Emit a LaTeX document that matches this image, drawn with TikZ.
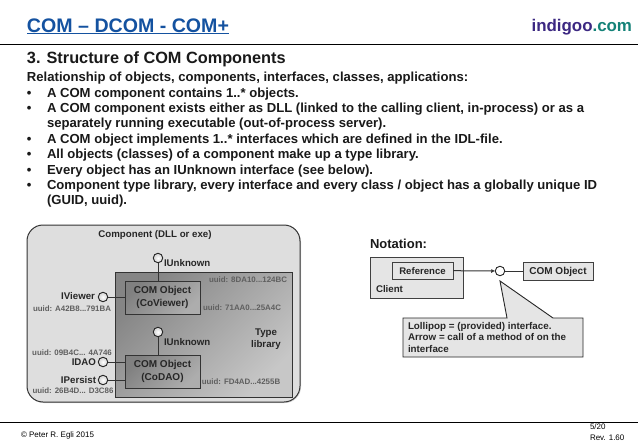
\documentclass[tikz,border=0pt]{standalone}
\usepackage{fontspec}
\setmainfont{Liberation Sans}
\usetikzlibrary{arrows.meta,shadows}
\definecolor{hdblue}{RGB}{20,82,160}
\definecolor{indig}{RGB}{60,40,130}
\definecolor{teal1}{RGB}{20,130,120}
\definecolor{uuidc}{RGB}{95,95,95}
\tikzset{
  every node/.style={inner sep=0pt,outer sep=0pt},
  body/.style={font=\bfseries\fontsize{13.1}{15}\selectfont,anchor=base west,text=black!90},
  lab/.style={font=\bfseries\fontsize{9.7}{12}\selectfont,text=black!85},
  uu/.style={font=\bfseries\fontsize{7.9}{9}\selectfont,text=uuidc},
  lolli/.style={circle,draw=black!85,line width=.9pt,minimum size=9.5pt,inner color=white,outer color=black!18},
  lolliw/.style={circle,draw=black!85,line width=.9pt,minimum size=9.5pt,fill=white},
  conn/.style={draw=black!80,line width=1pt},
  obj/.style={draw=black!80,line width=1pt,top color=black!50,bottom color=black!32,shading angle=45,minimum width=75pt,minimum height=33pt,align=center,font=\bfseries\fontsize{10}{12.5}\selectfont,text=black!85},
  nbox/.style={draw=black!75,line width=1pt,fill=black!10},
}
\begin{document}
\begin{tikzpicture}[x=1pt,y=-1pt]
\useasboundingbox (0,0) rectangle (638,442);
\fill[white] (0,0) rectangle (638,442);
% header
\node[anchor=base west,font=\bfseries\fontsize{19.6}{22}\selectfont,text=hdblue] (title) at (27,32) {COM – DCOM - COM+};
\draw[hdblue,line width=.9pt] (27,33.5) -- (229,33.5);
\node[anchor=base east,font=\bfseries\fontsize{16.9}{19}\selectfont] (logo) at (632,31) {\textcolor{indig}{indigoo}\textcolor{teal1}{.com}};
\draw[black,line width=.9pt] (0,44) -- (638,44);
\node[anchor=base west,font=\bfseries\fontsize{16.3}{18}\selectfont,text=black!90] (head) at (27,63) {3. Structure of COM Components};
\node[body] (t0) at (27,81.5) {Relationship of objects, components, interfaces, classes, applications:};
\node[body] (b1) at (47,97) {A COM component contains 1..* objects.};
\node[body] (b2) at (47,112.3) {A COM component exists either as DLL (linked to the calling client, in-process) or as a};
\node[body] (b3) at (47,127.7) {separately running executable (out-of-process server).};
\node[body] (b4) at (47,143) {A COM object implements 1..* interfaces which are defined in the IDL-file.};
\node[body] (b5) at (47,158.5) {All objects (classes) of a component make up a type library.};
\node[body] (b6) at (47,174) {Every object has an IUnknown interface (see below).};
\node[body] (b7) at (47,189) {Component type library, every interface and every class / object has a globally unique ID};
\node[body] (b8) at (47,204.5) {(GUID, uuid).};
\foreach \y/\a in {97/1,112.3/2,143/4,158.5/5,174/6,189/7}{
  \node[body] (d\a) at (27,\y) {•};
}
% component
\draw[black!80,line width=1pt,fill=black!13,rounded corners=16pt,drop shadow={shadow xshift=1pt,shadow yshift=-1pt,fill=black!30}] (27,225) rectangle (300,402);
\node[lab] (comp) at (155,235) {Component (DLL or exe)};
\path[draw=black!80,line width=.8pt,top color=black!48,bottom color=black!22,shading angle=45] (115,272) rectangle (292,397);
\node[uu] (v1) at (248,280) {uuid: 8DA10...124BC};
\node[uu] (v2) at (242,308) {uuid: 71AA0...25A4C};
\node[uu] (v3) at (241,382) {uuid: FD4AD...4255B};
\node[uu] (v4) at (72,309) {uuid: A42B8...791BA};
\node[uu] (v5) at (72,353) {uuid: 09B4C... 4A746};
\node[uu] (v6) at (73,391) {uuid: 26B4D... D3C86};
\node[obj] (o1) at (162.5,297.5) {COM Object\\(CoViewer)};
\node[obj] (o2) at (162.5,371.5) {COM Object\\(CoDAO)};
\node[lolli] (l1) at (158,258) {};
\node[lolli] (l2) at (103,297) {};
\node[lolli] (l3) at (158,332) {};
\node[lolli] (l4) at (103,362) {};
\node[lolli] (l5) at (103,380) {};
\draw[conn] (l1) -- (l1|-o1.north);
\draw[conn] (l3) -- (l3|-o2.north);
\draw[conn] (l2) -- (l2-|o1.west);
\draw[conn] (l4) -- (l4-|o2.west);
\draw[conn] (l5) -- (l5-|o2.west);
\node[lab,anchor=west] (u1) at (164,263) {IUnknown};
\node[lab,anchor=west] (u2) at (164,342) {IUnknown};
\node[lab,anchor=east] (iv) at (95,296) {IViewer};
\node[lab,anchor=east] (id) at (96,362) {IDAO};
\node[lab,anchor=east] (ip) at (96,380) {IPersist};
\node[lab,align=center] (tl) at (266,339) {Type\\library};
% notation
\node[anchor=base west,font=\bfseries\fontsize{13}{15}\selectfont,text=black!90] (not) at (370,248) {Notation:};
\path[nbox,drop shadow={shadow xshift=.7pt,shadow yshift=-.7pt,fill=black!30}] (370,257) rectangle (463,298);
\node[lab,anchor=west] (cl) at (376,289) {Client};
\node[nbox,minimum width=61pt,minimum height=17pt,text height=7pt,text depth=0pt,font=\bfseries\fontsize{9.6}{11}\selectfont,text=black!85] (ref) at (422.5,270.5) {Reference};
\node[lolliw] (c) at (500,271) {};
\node[nbox,minimum width=70pt,minimum height=18pt,text height=7pt,text depth=0pt,font=\bfseries\fontsize{10}{11}\selectfont,text=black!85] (co) at (558,271) {COM Object};
\draw[conn,-{Latex[length=4pt,width=4pt]}] (ref) -- (c);
\draw[conn] (c) -- (co);
\coordinate (tip) at (500,281);
\draw[black!85,line width=.9pt,fill=black!10] (403,318) -- (507,318) -- (tip) -- (553,318) -- (583,318) -- (583,357) -- (403,357) -- cycle;
\node[align=left,anchor=north west,font=\bfseries\fontsize{9.8}{11.7}\selectfont,text=black!85] (call) at (408,322) {Lollipop = (provided) interface.\\Arrow = call of a method of on the\\interface};
% footer
\draw[black,line width=.9pt] (0,422) -- (638,422);
\node[anchor=base west,font=\fontsize{8}{9}\selectfont] (cp) at (21,437) {© Peter R. Egli 2015};
\node[anchor=base west,font=\fontsize{8}{9}\selectfont] (pg) at (590,429) {5/20};
\node[anchor=base west,font=\fontsize{8}{9}\selectfont] (rv) at (590,440) {Rev. 1.60};
\end{tikzpicture}
\end{document}
